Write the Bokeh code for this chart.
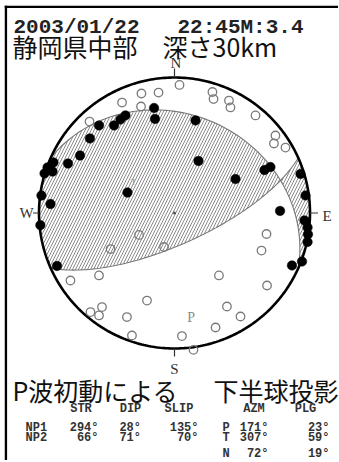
import numpy as np
from bokeh.plotting import figure
from bokeh.models import Label, Span
from bokeh.embed import file_html
from bokeh.resources import INLINE

# ---------------- data ----------------
date_text = "2003/01/22"
time_text = "22:45M:3.4"
region_text = "静岡県中部　深さ30km"
method_text = "P波初動による"
proj_text = "下半球投影"

plane_names = ["NP1", "NP2"]
strikes = [294, 66]
dips = [28, 71]
rakes = [135, 70]

axis_names = ["P", "T", "N"]
axis_azm = [171, 307, 72]
axis_plg = [23, 59, 19]

# first-motion polarities, positions on the unit projection circle (east, north)
up_e = [-0.151, -0.144, 0.155, -0.362, -0.399, -0.446, -0.557, -0.624, -0.697, -0.786,
        -0.893, -0.937, -0.900, -0.959, -0.982, -0.915, -0.990, -0.867, -0.347, 0.177,
        0.450, 0.664, 0.708, 0.930, 0.967, 0.779, 0.959, 0.982, 0.985, 0.982, 0.941, 0.867]
up_n = [0.775, 0.694, 0.683, 0.720, 0.690, 0.646, 0.646, 0.550, 0.424, 0.365,
        0.373, 0.336, 0.306, 0.292, 0.129, 0.066, -0.090, -0.391, 0.151, 0.384,
        0.251, 0.317, 0.339, 0.288, 0.129, 0.015, -0.055, -0.107, -0.157, -0.214, -0.358, -0.387]
down_e = [-0.387, -0.244, -0.118, -0.247, -0.627, 0.037, 0.280, 0.288, 0.402, 0.413,
          0.598, 0.745, 0.734, 0.819, 0.679, 0.642, 0.328, 0.683, 0.387, 0.487,
          0.303, 0.055, 0.140, -0.262, -0.472, -0.077, -0.768, -0.557, -0.203, -0.535,
          -0.620, -0.557, -0.351, -0.314]
down_n = [0.815, 0.882, 0.889, 0.786, 0.675, 0.945, 0.893, 0.841, 0.830, 0.779,
          0.720, 0.572, 0.513, 0.483, -0.155, -0.277, -0.461, -0.535, -0.690, -0.764,
          -0.845, -0.908, -1.010, -0.162, -0.266, -0.251, -0.498, -0.461, -0.646, -0.694,
          -0.731, -0.756, -0.768, -0.904]

# ---------------- layout ----------------
OX, OY = 4, 5
W, H = 334, 455
CXP, CYP = 174.0, 212.5
R = 135.5

fx0 = CXP - OX
fy0 = CYP - OY
x_start, x_end = -fx0 / R, (W - fx0) / R
y_end, y_start = fy0 / R, -(H - fy0) / R

p = figure(width=W, height=H, x_range=(x_start, x_end), y_range=(y_start, y_end),
           output_backend="svg", toolbar_location=None, min_border=0,
           styles={"position": "absolute", "left": f"{OX}px", "top": f"{OY}px"})
p.axis.visible = False
p.grid.visible = False
p.outline_line_color = None

SQ2 = np.sqrt(2.0)

def proj(trend, plunge):
    tr = np.radians(trend)
    pl = np.radians(plunge)
    r = SQ2 * np.sin((np.pi / 2 - pl) / 2)
    return r * np.sin(tr), r * np.cos(tr)

def basis(strike, dip):
    f = np.radians(strike)
    d = np.radians(dip)
    s = np.array([np.cos(f), np.sin(f), 0.0])
    dd = np.array([np.cos(f + np.pi / 2) * np.cos(d), np.sin(f + np.pi / 2) * np.cos(d), np.sin(d)])
    return s, dd

def plane_curve(strike, dip, t0, t1, n=150):
    s, dd = basis(strike, dip)
    t = np.radians(np.linspace(t0, t1, n))
    v = np.outer(np.cos(t), s) + np.outer(np.sin(t), dd)
    pl = np.degrees(np.arcsin(np.clip(v[:, 2], 0, 1)))
    tr = np.degrees(np.arctan2(v[:, 1], v[:, 0]))
    return proj(tr, pl)

def axis_vec(azm, plg):
    a, q = np.radians(azm), np.radians(plg)
    return np.array([np.cos(q) * np.cos(a), np.cos(q) * np.sin(a), np.sin(q)])

def t_of(strike, dip, vec):
    s, dd = basis(strike, dip)
    return np.degrees(np.arctan2(vec @ dd, vec @ s)) % 180

def arc(a0, a1, n=80):
    a = np.radians(np.linspace(a0, a1, n))
    return np.sin(a), np.cos(a)

nvec = axis_vec(axis_azm[2], axis_plg[2])
t1N = t_of(strikes[0], dips[0], nvec)
t2N = t_of(strikes[1], dips[1], nvec)

# compressional quadrant containing the T axis
a1 = plane_curve(strikes[0], dips[0], 0, t1N)
a2 = plane_curve(strikes[1], dips[1], t2N, 180)
a3 = arc(strikes[1] + 180, strikes[0])
regA_x = np.concatenate([a1[0], a2[0], a3[0]])
regA_y = np.concatenate([a1[1], a2[1], a3[1]])
# the opposite compressional quadrant
b1 = plane_curve(strikes[0], dips[0], t1N, 180)
b2 = arc(strikes[0] - 180, strikes[1])
b3 = plane_curve(strikes[1], dips[1], 0, t2N)
regB_x = np.concatenate([b1[0], b2[0], b3[0]])
regB_y = np.concatenate([b1[1], b2[1], b3[1]])

p.patches(xs=[list(regA_x), list(regB_x)], ys=[list(regA_y), list(regB_y)],
          fill_color=None, line_color=None,
          hatch_pattern="/", hatch_color="#8a8a8a", hatch_scale=6, hatch_weight=1.0)

for st, dp in zip(strikes, dips):
    cx, cy = plane_curve(st, dp, 0, 180)
    p.line(cx, cy, line_color="#777777", line_width=1.1)

ccx, ccy = arc(0, 360, 361)
p.line(ccx, ccy, line_color="black", line_width=2.6)

tick_len = {0: 9, 90: 8, 180: 8, 270: 6}
for az, ln in tick_len.items():
    sx, sy = np.sin(np.radians(az)), np.cos(np.radians(az))
    p.segment(x0=[sx], y0=[sy], x1=[sx * (1 + ln / R)], y1=[sy * (1 + ln / R)],
              line_color="#333333", line_width=1.2)

p.scatter(down_e, down_n, marker="circle", size=8.5, fill_color=None,
          line_color="#7a7a7a", line_width=1.3)
p.scatter(up_e, up_n, marker="circle", size=9.5, fill_color="black",
          line_color="black", line_width=0.5)
p.scatter([0], [0], marker="circle", size=3, fill_color="#555555", line_color=None)

px_, py_ = proj(axis_azm[0], axis_plg[0])
p.text([px_], [py_], text=[axis_names[0]], text_align="center", text_baseline="middle",
       text_font_size="14px", text_color="#8a8a8a", text_font="Liberation Serif")
tx_, ty_ = proj(axis_azm[1], axis_plg[1])
p.text([tx_], [ty_], text=[axis_names[1]], text_align="center", text_baseline="middle",
       text_font_size="9px", text_color="#999999", text_font="Liberation Serif")

# frame border (left and top)
p.add_layout(Span(location=x_start + 1.3 / R, dimension="height", line_color="black", line_width=2.6))
p.add_layout(Span(location=y_end - 1.3 / R, dimension="width", line_color="black", line_width=2.6))

def lab(text, px, py, size, font, align="left", baseline="alphabetic", color="black", style="normal"):
    p.add_layout(Label(x=px - OX, y=H - (py - OY), x_units="screen", y_units="screen",
                       text=text, text_font=font, text_font_size=f"{size}px",
                       text_align=align, text_baseline=baseline, text_color=color,
                       text_font_style=style))

MONO = "Liberation Mono"
CJK = "Noto Sans CJK JP"
SERIF = "Liberation Serif"

lab(date_text, 13, 26.5, 21, MONO, color="#222222", style="bold")
lab(time_text, 177, 26.5, 21, MONO, color="#222222", style="bold")
lab(region_text, 12, 45.5, 25, CJK, color="#111111")

lab("N", 175.5, 62, 15, SERIF, align="center", baseline="middle", color="#333333")
lab("S", 174, 368.5, 15, SERIF, align="center", baseline="middle", color="#333333")
lab("W", 26, 212, 15, SERIF, align="center", baseline="middle", color="#333333")
lab("E", 326.5, 215.5, 15, SERIF, align="center", baseline="middle", color="#333333")

lab(method_text, 12, 389.5, 25, CJK, color="#111111")
lab(proj_text, 213, 389.5, 25, CJK, color="#111111")

TS = 12
hy = 408.5
lab("STR", 80.5, hy, TS, MONO, align="center", color="#333333", style="bold")
lab("DIP", 130, hy, TS, MONO, align="center", color="#333333", style="bold")
lab("SLIP", 178.5, hy, TS, MONO, align="center", color="#333333", style="bold")
lab("AZM", 253.5, hy, TS, MONO, align="center", color="#333333", style="bold")
lab("PLG", 305, hy, TS, MONO, align="center", color="#333333", style="bold")

row_y = [427.0, 437.5, 453.0]
for i in range(2):
    lab(plane_names[i], 25, row_y[i], TS, MONO, color="#333333", style="bold")
    lab(f"{strikes[i]}°", 98, row_y[i], TS, MONO, align="right", color="#333333", style="bold")
    lab(f"{dips[i]}°", 140.5, row_y[i], TS, MONO, align="right", color="#333333", style="bold")
    lab(f"{rakes[i]}°", 198, row_y[i], TS, MONO, align="right", color="#333333", style="bold")
for i in range(3):
    lab(axis_names[i], 222, row_y[i], TS, MONO, color="#333333", style="bold")
    lab(f"{axis_azm[i]}°", 268, row_y[i], TS, MONO, align="right", color="#333333", style="bold")
    lab(f"{axis_plg[i]}°", 329, row_y[i], TS, MONO, align="right", color="#333333", style="bold")

open("out.html", "w").write(file_html(p, INLINE))
